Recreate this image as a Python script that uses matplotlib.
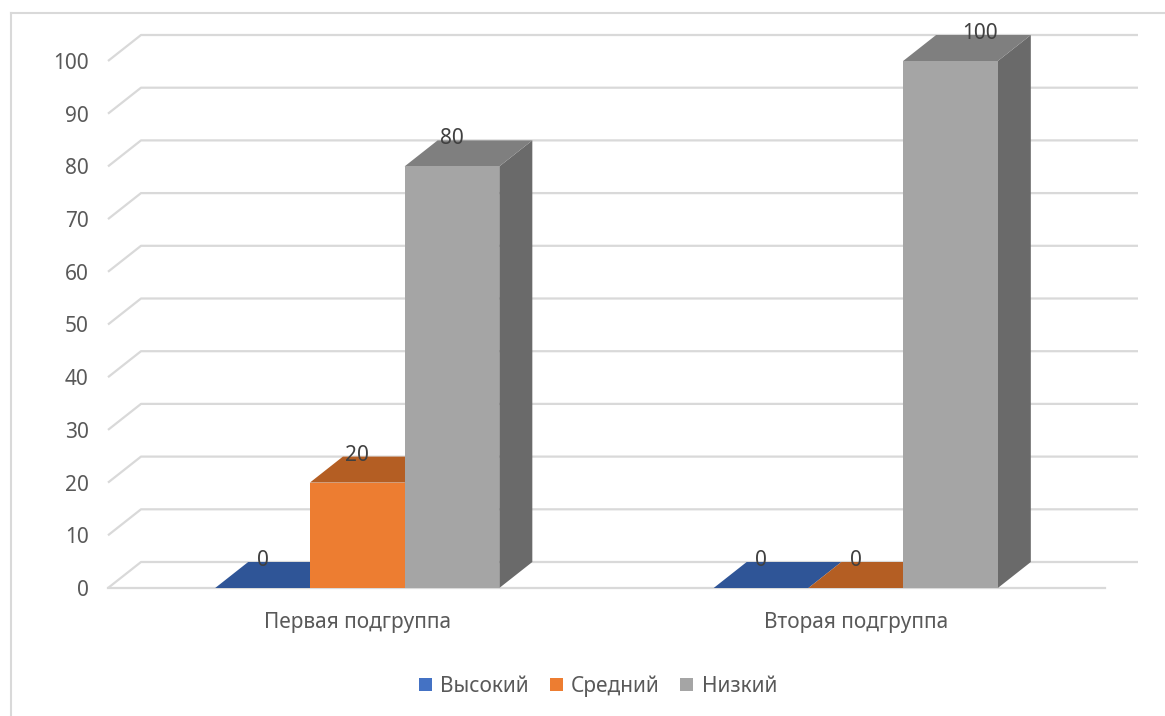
import numpy as np
import matplotlib.pyplot as plt
from matplotlib.patches import Polygon, Patch
from matplotlib.lines import Line2D

# data
categories = ["Первая подгруппа", "Вторая подгруппа"]
series_names = ["Высокий", "Средний", "Низкий"]
high = [0, 0]
mid = [20, 0]
low = [80, 100]
y_ticks = [0, 10, 20, 30, 40, 50, 60, 70, 80, 90, 100]

# colours: front, top, side for each series + legend colour
front_colors = ["#4472C4", "#ED7D31", "#A5A5A5"]
top_colors = ["#2F5597", "#B45E23", "#7F7F7F"]
side_colors = ["#2A4C86", "#A0521C", "#6A6A6A"]
grid_color = "#D9D9D9"
text_color = "#595959"

plt.rcParams['font.family'] = ['Noto Sans', 'DejaVu Sans']

W, H = 1165, 716
fig = plt.figure(figsize=(W / 100, H / 100), dpi=100)
ax = fig.add_axes([108 / W, 1 - 588 / H, 997 / W, 527 / H])
ax.set_xlim(-0.5, 1.5)
ax.set_ylim(0, 100)

# depth offset of the fake 3d look (data units)
dx = 33 / 498.5
dy = 26 / 5.27
bar_w = 0.19

# back wall gridlines with the little diagonal on the left
x0, x1 = ax.get_xlim()
for v in y_ticks:
    ax.plot([x0, x0 + dx, x1 + dx], [v, v + dy, v + dy], color=grid_color,
            lw=1.6, zorder=1, clip_on=False, solid_capstyle='butt')
ax.plot([x0, x1], [0, 0], color=grid_color, lw=1.6, zorder=1, clip_on=False)

values = [high, mid, low]
x = np.arange(len(categories))
offsets = [-bar_w, 0, bar_w]
z = 2
for gi in range(len(categories)):
    for si, vals in enumerate(values):
        v = vals[gi]
        left = x[gi] + offsets[si] - bar_w / 2
        right = left + bar_w
        # side face
        ax.add_patch(Polygon([(right, 0), (right + dx, dy), (right + dx, v + dy), (right, v)],
                             closed=True, facecolor=side_colors[si], edgecolor='none',
                             zorder=z, clip_on=False))
        # top face
        ax.add_patch(Polygon([(left, v), (left + dx, v + dy), (right + dx, v + dy), (right, v)],
                             closed=True, facecolor=top_colors[si], edgecolor='none',
                             zorder=z, clip_on=False))
        # front face
        ax.bar(x[gi] + offsets[si], v, width=bar_w, color=front_colors[si],
               zorder=z + 0.5, clip_on=False)
        # value label at the back edge of the top face
        lx = x[gi] + offsets[si]
        if v >= ax.get_ylim()[1]:
            lx += dx * 0.9
        ax.text(lx, v + dy + 0.3, str(v), ha='center', va='center', fontsize=15,
                color="#404040", zorder=10, clip_on=False)
        z += 1

ax.set_yticks(y_ticks)
ax.set_xticks(x)
ax.set_xticklabels(categories)
ax.tick_params(axis='y', length=0, pad=14, labelsize=15, labelcolor=text_color)
ax.tick_params(axis='x', length=0, pad=17, labelsize=15, labelcolor=text_color)
for s in ax.spines.values():
    s.set_visible(False)
ax.patch.set_visible(False)

# legend at the bottom
handles = [Patch(facecolor=c, edgecolor='none') for c in front_colors]
fig.legend(handles, series_names, loc='center', bbox_to_anchor=(598 / W, 1 - 686 / H),
           ncol=3, frameon=False, fontsize=15, labelcolor=text_color,
           handlelength=0.62, handleheight=0.62, handletextpad=0.4, columnspacing=1.0)

# chart area border (only left and top visible)
fig.add_artist(Line2D([11 / W, 11 / W], [0, 1 - 13 / H], color=grid_color, lw=1.5))
fig.add_artist(Line2D([11 / W, 1], [1 - 13 / H, 1 - 13 / H], color=grid_color, lw=1.5))

fig.savefig("out.png", dpi=100)
